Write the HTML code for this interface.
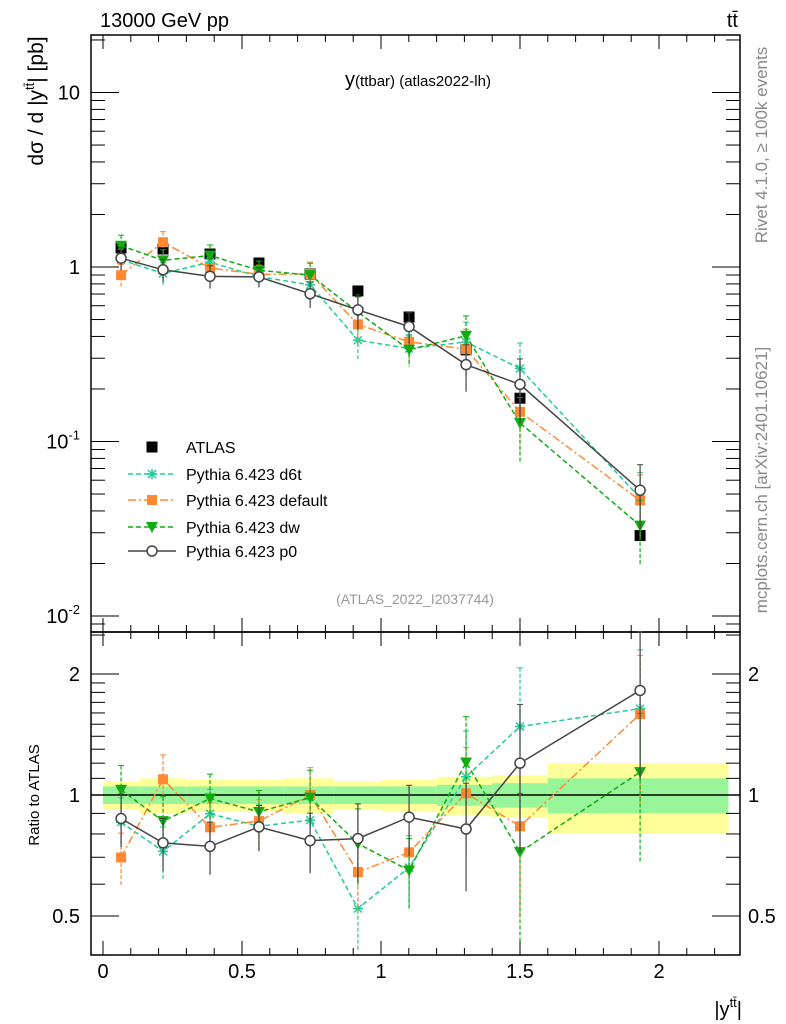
<!DOCTYPE html>
<html><head><meta charset="utf-8"><style>
body{margin:0;background:#fff}
svg{display:block;font-family:"Liberation Sans",sans-serif}
</style></head><body>
<svg id="c" width="786" height="1024" viewBox="0 0 786 1024" xmlns="http://www.w3.org/2000/svg">
<text x="100" y="27" font-size="20">13000 GeV pp</text>
<text x="738" y="27" font-size="20" text-anchor="end">tt̄</text>
<text x="418" y="86" font-size="20" text-anchor="middle">y<tspan font-size="15">(ttbar) (atlas2022-lh)</tspan></text>
<text transform="translate(43,101) rotate(-90)" font-size="21" text-anchor="middle">dσ / d |y<tspan font-size="13" dy="-9">tt̄</tspan><tspan dy="9">| [pb]</tspan></text>
<text transform="translate(39,795) rotate(-90)" font-size="15" text-anchor="middle">Ratio to ATLAS</text>
<text x="742" y="1016" font-size="20" text-anchor="end">|y<tspan font-size="13" dy="-9">tt̄</tspan><tspan dy="9">|</tspan></text>
<text transform="translate(767,145) rotate(-90)" font-size="17" fill="#888" text-anchor="middle">Rivet 4.1.0, ≥ 100k events</text>
<text transform="translate(767,480) rotate(-90)" font-size="17" fill="#888" text-anchor="middle">mcplots.cern.ch [arXiv:2401.10621]</text>
<text x="415" y="604" font-size="14" fill="#999" text-anchor="middle">(ATLAS_2022_I2037744)</text>
<g id="g"></g>
</svg>
<script>
const xCenters=[0.065,0.216,0.385,0.561,0.745,0.917,1.101,1.306,1.5,1.932];
const binEdges=[0,0.13,0.3,0.5,0.65,0.83,1.0,1.2,1.4,1.6,2.25];
const atlas=[1.285,1.268,1.187,1.054,0.912,0.729,0.517,0.335,0.177,0.0289];
const bandInner=[0.05,0.05,0.05,0.05,0.05,0.05,0.05,0.06,0.07,0.10];
const bandOuter=[0.08,0.10,0.09,0.09,0.10,0.08,0.09,0.11,0.12,0.20];
const ratioD6t=[0.856,0.724,0.898,0.836,0.866,0.522,0.660,1.11,1.48,1.64];
const ratioDefault=[0.699,1.094,0.831,0.861,1.0,0.643,0.720,1.01,0.836,1.59];
const ratioDw=[1.03,0.861,0.98,0.908,0.985,0.757,0.649,1.205,0.721,1.14];
const ratioP0=[0.874,0.760,0.745,0.833,0.770,0.779,0.881,0.823,1.20,1.82];
const mcRelErr=[0.15,0.15,0.15,0.13,0.17,0.22,0.2,0.3,0.4,0.4];
const mainTicks=["10","1","10","10"];

const NS="http://www.w3.org/2000/svg";
const g=document.getElementById('g');
function el(t,a,p){const e=document.createElementNS(NS,t);for(const k in a)e.setAttribute(k,a[k]);(p||g).appendChild(e);return e;}
const L=91,R=740,T=35,M=632,B=955;
const X=v=>103+278*v;
const Y=v=>267-174.5*Math.log10(v);
const YR=v=>795-402*Math.log10(v);

for(let i=0;i<atlas.length;i++){
  const x0=X(binEdges[i]),x1=X(binEdges[i+1]);
  let r=el('rect',{x:x0,y:YR(1+bandOuter[i]),width:x1-x0,height:YR(1-bandOuter[i])-YR(1+bandOuter[i]),fill:'#ffff99'});
  
  
  r=el('rect',{x:x0,y:YR(1+bandInner[i]),width:x1-x0,height:YR(1-bandInner[i])-YR(1+bandInner[i]),fill:'#99f599'});
  
  
}
el('line',{x1:L,x2:R,y1:YR(1),y2:YR(1),stroke:'#000','stroke-width':1.5});

let f=el('rect',{x:L,y:T,width:R-L,height:M-T,fill:'none',stroke:'#000','stroke-width':1.5});

f=el('rect',{x:L,y:M,width:R-L,height:B-M,fill:'none',stroke:'#000','stroke-width':1.5});


for(let k=0;k<=22;k++){
  const v=k/10,x=X(v),maj=k%5==0;
  const l=maj?14:7;
  [[T,T+l],[M,M+l],[M,M-l],[B,B-l]].forEach(p=>el('line',{x1:x,x2:x,y1:p[0],y2:p[1],stroke:'#000','stroke-width':1}));
  if(maj){const t=el('text',{x:x,y:978,'font-size':20,'text-anchor':'middle'});t.textContent=String(v);
  }
}
for(let d=-3;d<=1;d++){for(let m=1;m<10;m++){
  const v=m*Math.pow(10,d),y=Y(v);if(y<T||y>M)continue;
  const l=m==1?28:14;
  el('line',{x1:L,x2:L+l,y1:y,y2:y,stroke:'#000'});el('line',{x1:R,x2:R-l,y1:y,y2:y,stroke:'#000'});
  if(m==1){const t=el('text',{x:80,y:y+7,'font-size':20,'text-anchor':'end'});
    t.textContent=mainTicks[1-d];
    if(d<0){const s=el('tspan',{'font-size':13,dy:-9},t);s.textContent=String(d);}
    }
}}
[0.4,0.5,0.6,0.7,0.8,0.9,1,1.1,1.2,1.3,1.4,1.5,1.6,1.7,1.8,1.9,2,2.5].forEach(v=>{
  const y=YR(v);if(y<M||y>B)return;const maj=(v==0.5||v==1||v==2);const l=maj?28:14;
  el('line',{x1:L,x2:L+l,y1:y,y2:y,stroke:'#000'});el('line',{x1:R,x2:R-l,y1:y,y2:y,stroke:'#000'});
  if(maj){[[80,'end'],[748,'start']].forEach(p=>{const t=el('text',{x:p[0],y:y+7,'font-size':20,'text-anchor':p[1]});t.textContent=String(v);
  });}
});

function marker(type,x,y,c,parent){
  if(type=='sq')return el('rect',{x:x-5.5,y:y-5.5,width:11,height:11,fill:c},parent);
  if(type=='osq')return el('rect',{x:x-5,y:y-5,width:10,height:10,fill:c},parent);
  if(type=='tri')return el('path',{d:`M${x-6},${y-5}L${x+6},${y-5}L${x},${y+6}Z`,fill:c},parent);
  if(type=='circ')return el('circle',{cx:x,cy:y,r:5,fill:'#fff',stroke:c,'stroke-width':1.5},parent);
  if(type=='star')return el('path',{d:`M${x-5},${y}L${x+5},${y}M${x},${y-5}L${x},${y+5}M${x-4},${y-4}L${x+4},${y+4}M${x-4},${y+4}L${x+4},${y-4}`,stroke:c,'stroke-width':1.5},parent);
}
const series=[
 {name:'d6t',r:ratioD6t,c:'#22cc99',dash:'5,3',m:'star'},
 {name:'default',r:ratioDefault,c:'#ff8833',dash:'8,3,2,3',m:'osq'},
 {name:'dw',r:ratioDw,c:'#11aa11',dash:'5,3',m:'tri'},
 {name:'p0',r:ratioP0,c:'#444',dash:'',m:'circ'}
];
const dg=el('g',{});


atlas.forEach((v,i)=>{const p=marker('sq',X(xCenters[i]),Y(v),'#000',dg);
  });
series.forEach(s=>{
  const sg=el('g',{});
  
  
  const mainPts=s.r.map((r,i)=>[X(xCenters[i]),Y(r*atlas[i])]);
  const ratPts=s.r.map((r,i)=>[X(xCenters[i]),YR(r)]);
  [[mainPts,Y,i=>s.r[i]*atlas[i]],[ratPts,YR,i=>s.r[i]]].forEach(([pts,fy,val])=>{
    const attrs={points:pts.map(p=>p.join(',')).join(' '),fill:'none',stroke:s.c,'stroke-width':1.5};
    if(s.dash)attrs['stroke-dasharray']=s.dash;
    el('polyline',attrs,sg);
    pts.forEach((p,i)=>{
      const v=val(i),e=mcRelErr[i];
      const y1=fy(v*(1+e)),y2=fy(Math.max(v*(1-e),1e-4));
      const a={x1:p[0],x2:p[0],y1:Math.max(y1,fy==Y?T:M),y2:Math.min(y2,fy==Y?M:B),stroke:s.c,'stroke-width':1.2};
      if(s.dash)a['stroke-dasharray']='4,2';
      el('line',a,sg);
      el('line',{x1:p[0]-3,x2:p[0]+3,y1:y1,y2:y1,stroke:s.c},sg);
      const mk=marker(s.m,p[0],p[1],s.c,sg);
      
      
    });
  });
});
const lg=el('g',{});


const legY=[447,474,500,527,551];
const labels=['ATLAS','Pythia 6.423 d6t','Pythia 6.423 default','Pythia 6.423 dw','Pythia 6.423 p0'];
labels.forEach((lab,i)=>{
  const y=legY[i];
  if(i==0)marker('sq',152,y,'#000',lg);
  else{const s=series[i-1];const a={x1:128,x2:176,y1:y,y2:y,stroke:s.c,'stroke-width':1.5};if(s.dash)a['stroke-dasharray']=s.dash;el('line',a,lg);marker(s.m,152,y,s.c,lg);}
  const t=el('text',{x:186,y:y+6,'font-size':16},lg);t.textContent=lab;
  
  
});
</script>
</body></html>
